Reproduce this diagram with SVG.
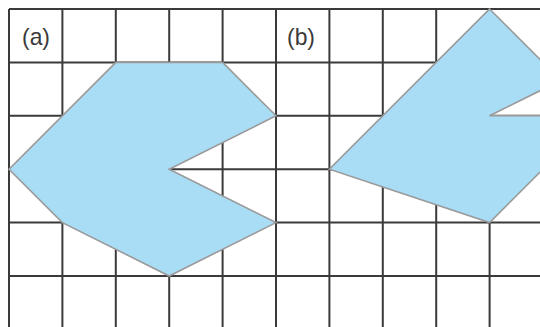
<svg xmlns="http://www.w3.org/2000/svg" width="540" height="327" viewBox="0 0 540 327">
<style>
.grid line{stroke:#3a3a3a;stroke-width:2}
.shape{fill:#a9dcf5;stroke:#9a9a9a;stroke-width:1.6;stroke-linejoin:miter}
.lbl{font-family:"Liberation Sans",Arial,sans-serif;font-size:24px;fill:#3a3a3a}
</style>
<rect width="540" height="327" fill="#ffffff"/>
<g id="grid" class="grid">
<line x1="9" y1="9" x2="9" y2="327"/>
<line x1="62.4" y1="9" x2="62.4" y2="327"/>
<line x1="115.8" y1="9" x2="115.8" y2="327"/>
<line x1="169.2" y1="9" x2="169.2" y2="327"/>
<line x1="222.6" y1="9" x2="222.6" y2="327"/>
<line x1="276" y1="9" x2="276" y2="327"/>
<line x1="329.4" y1="9" x2="329.4" y2="327"/>
<line x1="382.8" y1="9" x2="382.8" y2="327"/>
<line x1="436.2" y1="9" x2="436.2" y2="327"/>
<line x1="489.6" y1="9" x2="489.6" y2="327"/>
<line x1="9" y1="9" x2="540" y2="9"/>
<line x1="9" y1="62.4" x2="540" y2="62.4"/>
<line x1="9" y1="115.8" x2="540" y2="115.8"/>
<line x1="9" y1="169.2" x2="540" y2="169.2"/>
<line x1="9" y1="222.6" x2="540" y2="222.6"/>
<line x1="9" y1="276" x2="540" y2="276"/>
</g>
<g id="shape-a">
<polygon class="shape" points="115.8,62.4 222.6,62.4 276,115.8 169.2,169.2 276,222.6 169.2,276 62.4,222.6 9,169.2"/>
</g>
<g id="shape-b">
<polygon class="shape" points="489.6,9 560,79.4 560,80.8 489.6,115.8 560,115.8 560,152.2 489.6,222.6 329.4,169.2"/>
</g>
<g id="labels">
<text class="lbl" x="22" y="44.5" textLength="28" lengthAdjust="spacingAndGlyphs">(a)</text>
<text class="lbl" x="287" y="44.5" textLength="28" lengthAdjust="spacingAndGlyphs">(b)</text>
</g>
</svg>
